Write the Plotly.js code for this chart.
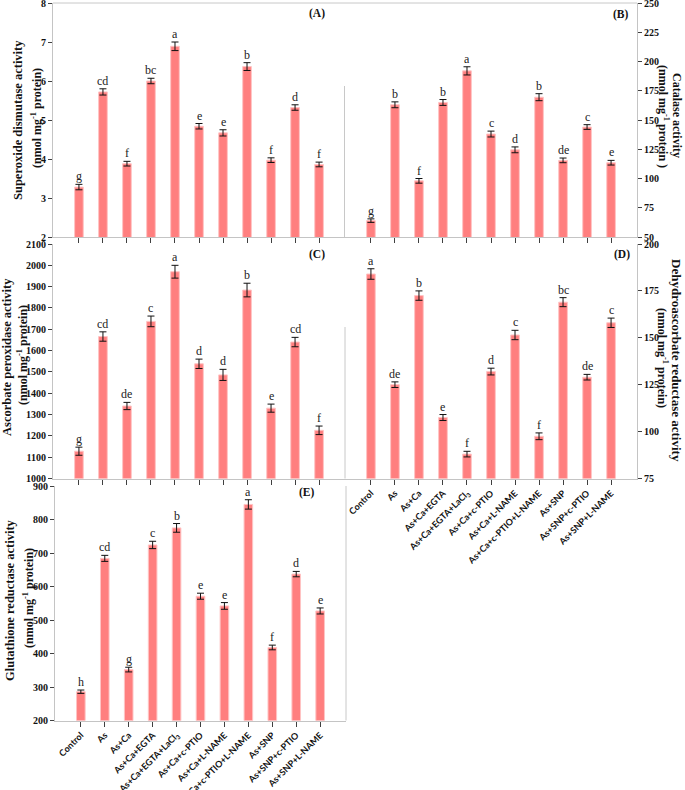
<!DOCTYPE html>
<html>
<head>
<meta charset="utf-8">
<script src="https://cdn.plot.ly/plotly-3.0.1.min.js"></script>
<style>html,body{margin:0;padding:0;background:#fff;}#chart{width:685px;height:790px;}</style>
</head>
<body>
<div id="chart"></div>
<script>
// ---- data ----
const categories = ['Control','As','As+Ca','As+Ca+EGTA','As+Ca+EGTA+LaCl<sub>3</sub>','As+Ca+c-PTIO','As+Ca+L-NAME','As+Ca+c-PTIO+L-NAME','As+SNP','As+SNP+c-PTIO','As+SNP+L-NAME'];

const sodValues = [3.28, 5.72, 3.88, 6.00, 6.89, 4.84, 4.67, 6.37, 3.97, 5.32, 3.86];
const sodErr = [0.07, 0.08, 0.06, 0.07, 0.11, 0.07, 0.08, 0.10, 0.06, 0.07, 0.06];
const sodLetters = ['g','cd','f','bc','a','e','e','b','f','d','f'];

const catValues = [64, 163, 98, 165, 192, 138, 124.5, 169.5, 115.5, 144, 113.5];
const catErr = [1.5, 2.5, 2, 2.5, 3.5, 2.5, 2.5, 3, 2, 2, 2];
const catLetters = ['g','b','f','b','a','c','d','b','de','c','e'];

const apxValues = [1128, 1666, 1340, 1737, 1970, 1538, 1486, 1884, 1330, 1640, 1226];
const apxErr = [19, 22, 17, 25, 30, 22, 26, 32, 19, 22, 20];
const apxLetters = ['g','cd','de','c','a','d','d','b','e','cd','f'];

const dharValues = [184, 125, 172.5, 107.5, 88, 132, 151.5, 97.5, 169, 129, 158];
const dharErr = [2.8, 1.5, 2.5, 1.6, 1.5, 1.8, 2.5, 1.8, 2.4, 1.5, 2.5];
const dharLetters = ['a','de','b','e','f','d','c','f','bc','de','c'];

const grValues = [286, 684, 352, 724, 775, 571, 542, 845, 418, 637, 527];
const grErr = [5, 9, 7, 11, 13, 9, 10, 14, 7, 8, 9];
const grLetters = ['h','cd','g','c','b','e','e','a','f','d','e'];

// ---- styling ----
const W = 685, H = 790;
const px = v => v / W;
const py = v => 1 - v / H;
const serif = 'Liberation Serif, Times New Roman, serif';
const barColor = '#FF7F7F';
const axisLineColor = '#c4c4c4';
const tickColor = '#404040';

const panels = [
  {vals: sodValues, err: sodErr, letters: sodLetters, xa: 'x', ya: 'y', label: '(A)'},
  {vals: catValues, err: catErr, letters: catLetters, xa: 'x2', ya: 'y2', label: '(B)'},
  {vals: apxValues, err: apxErr, letters: apxLetters, xa: 'x3', ya: 'y3', label: '(C)'},
  {vals: dharValues, err: dharErr, letters: dharLetters, xa: 'x4', ya: 'y4', label: '(D)'},
  {vals: grValues, err: grErr, letters: grLetters, xa: 'x5', ya: 'y5', label: '(E)'}
];

const traces = panels.map(p => ({
  type: 'bar', x: categories, y: p.vals, xaxis: p.xa, yaxis: p.ya,
  width: 0.36,
  marker: {color: barColor, line: {color: '#FFC4C4', width: 1}},
  error_y: {type: 'data', array: p.err, visible: true, color: '#111', thickness: 1, width: 3.5},
  showlegend: false, hoverinfo: 'skip'
}));

const annotations = [];
panels.forEach(p => {
  p.vals.forEach((v, i) => {
    annotations.push({
      xref: p.xa, yref: p.ya, x: categories[i], y: v + p.err[i],
      text: p.letters[i], showarrow: false, yanchor: 'bottom', yshift: -1,
      font: {family: serif, size: 12, color: '#222'}
    });
  });
});

// panel labels
const labelPos = [[317,14],[621,15],[317,255],[622,255],[307,492]];
panels.forEach((p, k) => {
  annotations.push({xref: 'paper', yref: 'paper', x: px(labelPos[k][0]), y: py(labelPos[k][1]),
    text: '<b>' + p.label + '</b>', showarrow: false, xanchor: 'center', yanchor: 'middle',
    font: {family: serif, size: 11.5, color: '#111'}});
});

// axis titles
const titles = [
  {t: 'Superoxide dismutase activity', x: 18, y: 120, a: -90, s: 12.5},
  {t: '(nmol mg<sup>-1</sup> protein)', x: 36, y: 118, a: -90, s: 12},
  {t: 'Ascorbate peroxidase activity', x: 7, y: 357, a: -90, s: 12.5},
  {t: '(nmol mg<sup>-1</sup> protein)', x: 23, y: 355, a: -90, s: 12},
  {t: 'Glutathione reductase activity', x: 10, y: 600, a: -90, s: 12.5},
  {t: '(nmol mg<sup>-1</sup> protein)', x: 28, y: 598, a: -90, s: 12},
  {t: 'Catalase activity', x: 677, y: 115, a: 90, s: 12},
  {t: '(nmol mg<sup>-1</sup> protein )', x: 664, y: 116, a: 90, s: 12},
  {t: 'Dehydroascorbate reductase activity', x: 677, y: 360, a: 90, s: 13},
  {t: '(nmol mg<sup>-1</sup> protein)', x: 663, y: 358, a: 90, s: 12}
];
titles.forEach(o => annotations.push({xref: 'paper', yref: 'paper', x: px(o.x), y: py(o.y),
  text: '<b>' + o.t + '</b>', showarrow: false, textangle: o.a, xanchor: 'center', yanchor: 'middle',
  font: {family: serif, size: o.s, color: '#111'}}));

const xRange = [-1.08, 11.08];
function xAxis(domain, anchor, showLabels) {
  return {domain: domain, anchor: anchor, range: xRange, type: 'category',
    showline: true, linecolor: axisLineColor, linewidth: 1, mirror: false,
    ticks: 'outside', ticklen: 5, tickcolor: tickColor, tickwidth: 1,
    showgrid: false, zeroline: false, showticklabels: showLabels, tickangle: -45,
    tickfont: {family: 'Lato, Arial, sans-serif', size: 9, color: '#111', weight: 'bold'},
    ticklabeloverflow: 'allow',
    automargin: false, fixedrange: true};
}
function yAxis(domain, anchor, range, dtick, side) {
  return {domain: domain, anchor: anchor, range: range, dtick: dtick, side: side,
    showline: true, linecolor: axisLineColor, linewidth: 1,
    ticks: 'outside', ticklen: 4, tickcolor: tickColor, tickwidth: 1,
    showgrid: false, zeroline: false,
    tickfont: {family: serif, size: 10, color: '#111', weight: 'bold'},
    ticklabeloverflow: 'allow',
    automargin: false, fixedrange: true};
}

const xL = [px(53), px(345)], xR = [px(345), px(637)], xE = [px(55), px(346)];
const yTop = [py(237), py(3)], yMid = [py(478.5), py(244)], yBot = [py(720.5), py(486)];

const lineStyle = {color: '#c8c8c8', width: 1};
const shapes = [
  {type: 'line', xref: 'paper', yref: 'paper', x0: px(53), x1: px(637), y0: py(3), y1: py(3), line: lineStyle},
  {type: 'line', xref: 'paper', yref: 'paper', x0: px(344.5), x1: px(344.5), y0: py(86), y1: py(237), line: lineStyle},
  {type: 'line', xref: 'paper', yref: 'paper', x0: px(345), x1: px(345), y0: py(327), y1: py(478.5), line: lineStyle},
  {type: 'line', xref: 'paper', yref: 'paper', x0: px(346), x1: px(346), y0: py(486), y1: py(720.5), line: lineStyle}
];

const layout = {
  width: W, height: H,
  margin: {l: 0, r: 0, t: 0, b: 0},
  paper_bgcolor: '#fff', plot_bgcolor: 'rgba(0,0,0,0)',
  showlegend: false, bargap: 0.6,
  xaxis: xAxis(xL, 'y', false),
  yaxis: yAxis(yTop, 'x', [2, 8], 1, 'left'),
  xaxis2: xAxis(xR, 'y2', false),
  yaxis2: yAxis(yTop, 'x2', [50, 250], 25, 'right'),
  xaxis3: xAxis(xL, 'y3', false),
  yaxis3: yAxis(yMid, 'x3', [1000, 2100], 100, 'left'),
  xaxis4: xAxis(xR, 'y4', true),
  yaxis4: yAxis(yMid, 'x4', [75, 200], 25, 'right'),
  xaxis5: xAxis(xE, 'y5', true),
  yaxis5: yAxis(yBot, 'x5', [200, 900], 100, 'left'),
  annotations: annotations,
  shapes: shapes
};

Plotly.newPlot('chart', traces, layout, {staticPlot: true, displayModeBar: false});
</script>
</body>
</html>
